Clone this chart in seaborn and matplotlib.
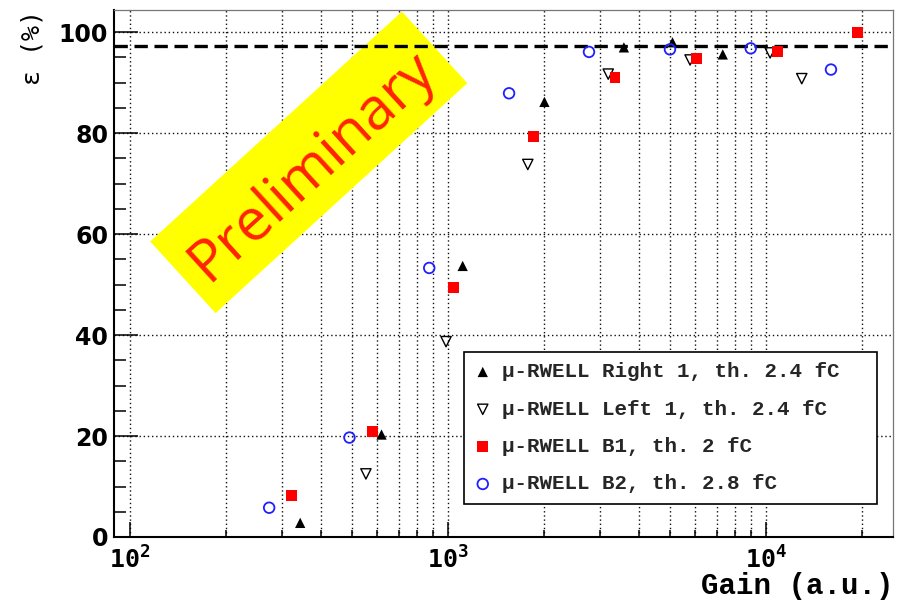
import numpy as np
import pandas as pd
import matplotlib
matplotlib.use("Agg")
import matplotlib.pyplot as plt
import seaborn as sns
from matplotlib.ticker import LogLocator, MultipleLocator, FixedLocator, NullFormatter
from matplotlib.patches import Rectangle
from matplotlib.transforms import Affine2D

# ---------------- data ----------------
gain_right1 = [343, 618, 1112, 2010, 3573, 5080, 7310]
eff_right1 = [2.8, 20.3, 53.7, 86.2, 97.0, 98.0, 95.6]

gain_left1 = [552, 986, 1782, 3190, 5770, 10300, 12950]
eff_left1 = [12.5, 38.7, 73.8, 91.7, 94.5, 95.9, 90.8]

gain_b1 = [321, 579, 1040, 1862, 3350, 6050, 10880, 19370]
eff_b1 = [8.2, 20.9, 49.4, 79.4, 91.0, 94.7, 96.1, 99.9]

gain_b2 = [274, 490, 873, 1556, 2775, 4988, 8950, 16000]
eff_b2 = [5.8, 19.7, 53.3, 87.9, 96.1, 96.6, 96.8, 92.6]

series_labels = [
    "μ-RWELL Right 1, th. 2.4 fC",
    "μ-RWELL Left 1, th. 2.4 fC",
    "μ-RWELL B1, th. 2 fC",
    "μ-RWELL B2, th. 2.8 fC",
]
reference_eff = 97.3
x_label = "Gain (a.u.)"
y_label = "ε (%)"
banner_text = "Preliminary"

# ---------------- figure ----------------
sns.set_theme(style="white")
plt.rcParams["font.family"] = ["DejaVu Sans"]
plt.rcParams["mathtext.default"] = "regular"

W, H = 897, 603
fig = plt.figure(figsize=(W / 100, H / 100), dpi=100)
ax = fig.add_axes([114 / W, 1 - 537 / H, 779 / W, 527 / H])
ax.set_xscale("log")

sns.scatterplot(x=gain_right1, y=eff_right1, ax=ax, marker="^", s=55,
                color="black", edgecolor="none", linewidth=0,
                label=series_labels[0], zorder=4)
sns.scatterplot(x=gain_left1, y=eff_left1, ax=ax, marker="v", s=55,
                color="black", facecolor="none", edgecolor="black", linewidth=1.0,
                label=series_labels[1], zorder=4)
sns.scatterplot(x=gain_b1, y=eff_b1, ax=ax, marker="s", s=62,
                color="#ff0000", edgecolor="none", linewidth=0,
                label=series_labels[2], zorder=4)
sns.scatterplot(x=gain_b2, y=eff_b2, ax=ax, marker="o", s=58,
                color="#1f1fff", facecolor="none", edgecolor="#1f1fff", linewidth=1.3,
                label=series_labels[3], zorder=4)

ax.axhline(reference_eff, color="black", lw=2.4, ls=(0, (4, 2)), zorder=3)

ax.set_xlim(89.1, 25070)
ax.set_ylim(0, 104.4)

ax.xaxis.set_major_locator(LogLocator(base=10, numticks=10))
ax.xaxis.set_minor_locator(FixedLocator([m * 10 ** e for e in (2, 3, 4) for m in range(2, 10)]))
ax.xaxis.set_minor_formatter(NullFormatter())
ax.yaxis.set_major_locator(MultipleLocator(20))
ax.yaxis.set_minor_locator(MultipleLocator(5))

grid_kw = dict(ls=(0, (1, 2)), lw=1.0, color="#111111")
ax.grid(True, which="major", axis="both", **grid_kw)
ax.grid(True, which="minor", axis="x", **grid_kw)
ax.set_axisbelow(True)

ax.tick_params(axis="x", which="major", direction="in", length=10.8, width=1.1,
               color="black", pad=7.0, labelsize=18, labelcolor="black",
               labelfontfamily="DejaVu Sans Mono")
ax.tick_params(axis="x", which="minor", direction="in", length=5.4, width=1.1, color="black")
ax.tick_params(axis="y", which="major", direction="in", length=17.3, width=1.1,
               color="black", pad=4.3, labelsize=17, labelcolor="black")
ax.tick_params(axis="y", which="minor", direction="in", length=8.6, width=1.1, color="black")
ax.tick_params(which="both", top=False, right=False, left=True, bottom=True)
plt.setp(ax.get_xticklabels(), fontweight="bold")
plt.setp(ax.get_yticklabels(), fontweight="bold")

for side in ("left", "bottom"):
    ax.spines[side].set_color("black")
    ax.spines[side].set_linewidth(1.5)
for side in ("top", "right"):
    ax.spines[side].set_color("#777777")
    ax.spines[side].set_linewidth(0.9)

ax.set_xlabel(x_label, loc="right", fontfamily="Liberation Mono",
              fontweight="bold", fontsize=21, color="black")
ax.xaxis.set_label_coords(1.0, -0.066)
ax.set_ylabel(y_label, loc="top", fontfamily="DejaVu Sans Mono",
              fontsize=18, color="black")
ax.yaxis.set_label_coords(-0.0886, 1.0)

leg_h = 0.29
leg = ax.legend(loc="upper left", bbox_to_anchor=(0.4493, 0.351 - leg_h, 0.530, leg_h),
                mode="expand", borderaxespad=0, frameon=True, fancybox=False,
                shadow=False, framealpha=1, edgecolor="black",
                prop={"family": "Liberation Mono", "weight": "bold", "size": 15},
                handlelength=0.8, handletextpad=0.5, borderpad=0.5,
                labelspacing=0.88, scatterpoints=1)
leg.get_frame().set_linewidth(1.2)
leg.set_zorder(6)

# ---------------- "Preliminary" banner ----------------
cx, cy = 308.75 / 100, (H - 162.35) / 100
bw, bh = 3.41, 0.97
tr = Affine2D().rotate_deg_around(cx, cy, 42.4) + fig.dpi_scale_trans
banner = Rectangle((cx - bw / 2, cy - bh / 2), bw, bh, transform=tr,
                   facecolor="#ffff00", edgecolor="none", zorder=2, clip_on=False)
ax.add_patch(banner)
ax.text(3.12, (H - 166) / 100, banner_text, transform=fig.dpi_scale_trans,
        rotation=42.4, rotation_mode="anchor", ha="center", va="center",
        fontsize=42, color="#ff2200", family="Open Sans", zorder=2.5, clip_on=False)

fig.savefig("out.png", dpi=100)
